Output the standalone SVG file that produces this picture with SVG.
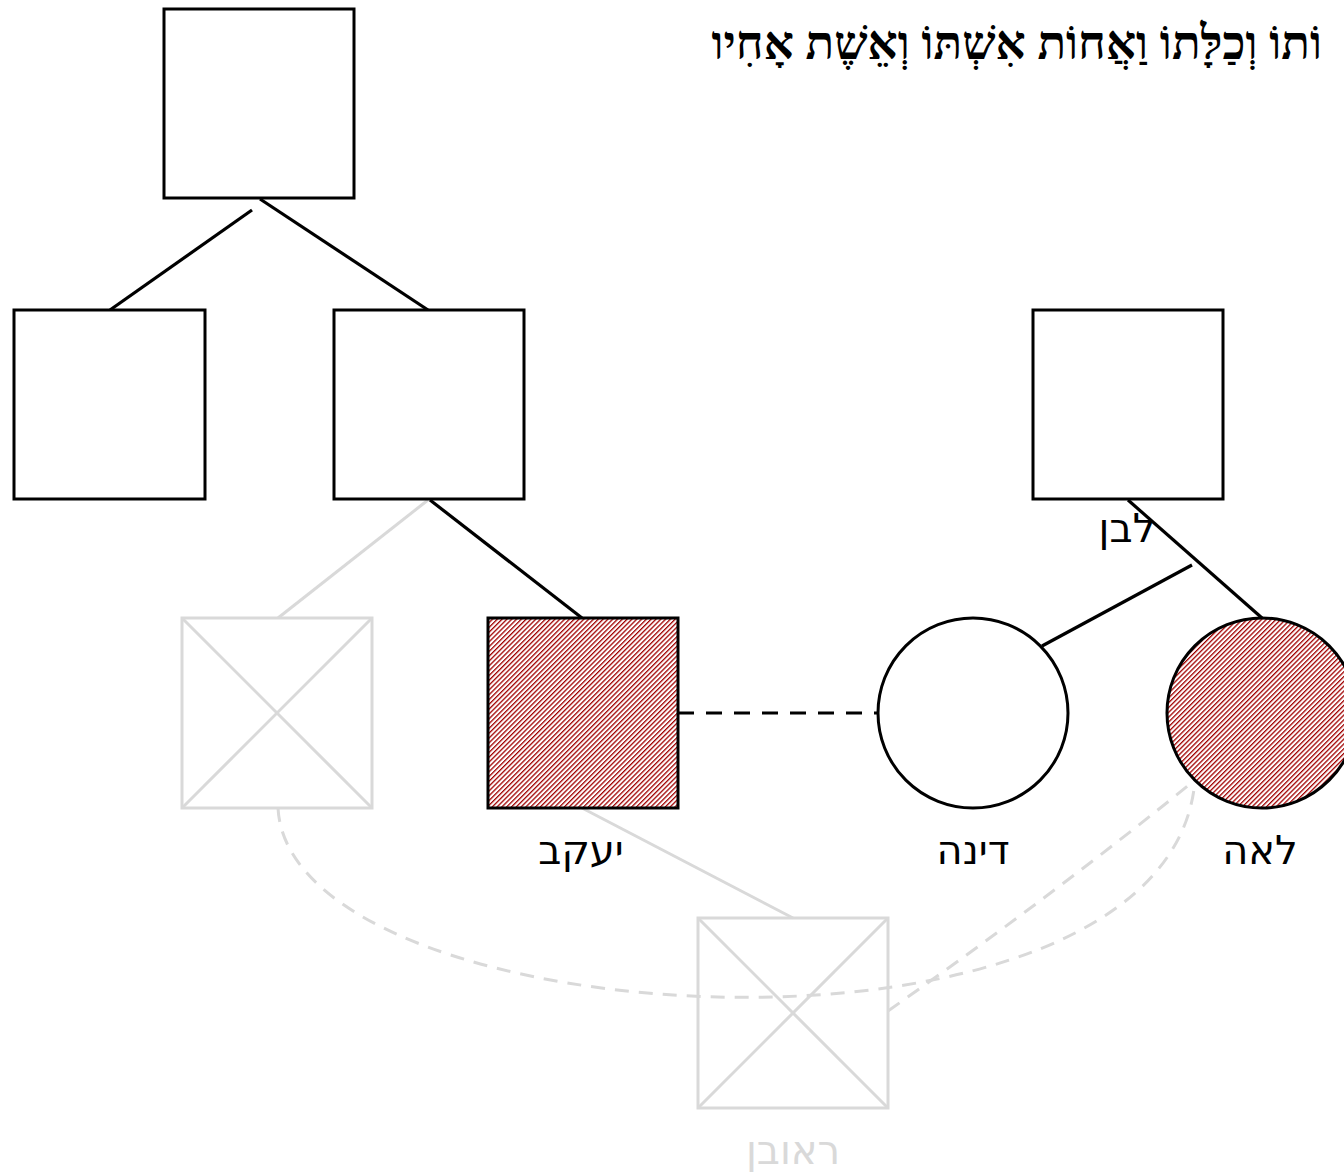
<svg xmlns="http://www.w3.org/2000/svg" width="1344" height="1174" viewBox="0 0 1344 1174">
<style>
.box{fill:#fff;stroke:#000;stroke-width:3}
.hatch{fill:url(#hatch);stroke:#000;stroke-width:3}
.ghost{fill:none;stroke:#d9d9d9;stroke-width:3}
.ln{stroke:#000;stroke-width:3.2;fill:none}
.gln{stroke:#d9d9d9;stroke-width:3;fill:none}
.dash{stroke:#000;stroke-width:3.2;fill:none;stroke-dasharray:16 12}
.gdash{stroke:#d9d9d9;stroke-width:3;fill:none;stroke-dasharray:14 10}
.lbl{font-family:"DejaVu Sans","Noto Sans",sans-serif;font-size:40px;fill:#000;text-anchor:middle}
.glbl{font-family:"DejaVu Sans","Noto Sans",sans-serif;font-size:40px;fill:#d9d9d9;text-anchor:middle}
.quote{font-family:"Liberation Serif","DejaVu Serif",serif;font-size:47px;font-weight:bold;fill:#000}
</style>
<defs>
<pattern id="hatch" patternUnits="userSpaceOnUse" width="3.4" height="3.4" patternTransform="rotate(45)">
<rect width="3.4" height="3.4" fill="#fff"/>
<line x1="0" y1="0" x2="0" y2="3.4" stroke="#a00000" stroke-width="2.6"/>
</pattern>
<clipPath id="qclip"><rect x="709" y="0" width="635" height="100"/></clipPath>
</defs>
<rect width="1344" height="1174" fill="#fff"/>
<g id="connectors">
<line class="ln" x1="252" y1="210" x2="110" y2="310"/>
<line class="ln" x1="260" y1="199" x2="428" y2="310"/>
<line class="ln" x1="430" y1="500" x2="582" y2="618"/>
<line class="gln" x1="428" y1="500" x2="278" y2="618"/>
<line class="gln" x1="582" y1="808" x2="793" y2="918"/>
<line class="ln" x1="1128" y1="500" x2="1262" y2="618"/>
<line class="ln" x1="1192" y1="565" x2="1042" y2="646"/>
<line class="dash" x1="678" y1="713" x2="878" y2="713"/>
<path class="gdash" d="M278,808 C290,1040 1170,1090 1195,780"/>
<path class="gdash" d="M888,1011 Q1060,890 1195,780"/>
</g>
<g id="node-top"><rect class="box" x="164" y="9" width="190" height="189"/></g>
<g id="node-left"><rect class="box" x="14" y="310" width="191" height="189"/></g>
<g id="node-mid"><rect class="box" x="334" y="310" width="190" height="189"/></g>
<g id="node-laban"><rect class="box" x="1033" y="310" width="190" height="189"/>
<text class="lbl" x="1127" y="542">לבן</text></g>
<g id="node-ghost1"><rect class="ghost" x="182" y="618" width="190" height="190"/>
<line class="gln" x1="182" y1="618" x2="372" y2="808"/><line class="gln" x1="372" y1="618" x2="182" y2="808"/></g>
<g id="node-jacob"><rect class="hatch" x="488" y="618" width="190" height="190"/>
<text class="lbl" x="581" y="864">יעקב</text></g>
<g id="node-dinah"><circle class="box" cx="973" cy="713" r="95"/>
<text class="lbl" x="973" y="864">דינה</text></g>
<g id="node-leah"><circle class="hatch" cx="1262" cy="713" r="95"/>
<text class="lbl" x="1260" y="864">לאה</text></g>
<g id="node-reuben"><rect class="ghost" x="698" y="918" width="190" height="190"/>
<line class="gln" x1="698" y1="918" x2="888" y2="1108"/><line class="gln" x1="888" y1="918" x2="698" y2="1108"/>
<text class="glbl" x="793" y="1164">ראובן</text></g>
<g id="quote" clip-path="url(#qclip)">
<text class="quote" x="1322" y="59" direction="rtl" text-anchor="start">וֹתוֹ וְכַלָּתוֹ וַאֲחוֹת אִשְׁתּוֹ וְאֵשֶׁת אָחִיו</text>
</g>
</svg>
